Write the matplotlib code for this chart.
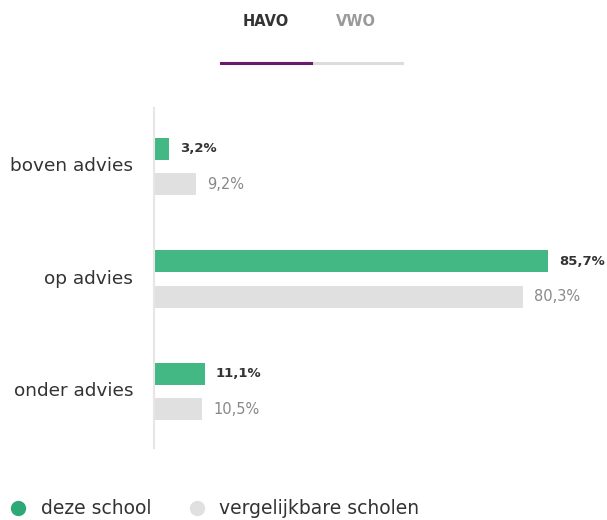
import matplotlib
matplotlib.use("Agg")
import matplotlib.pyplot as plt
from matplotlib.lines import Line2D
from matplotlib.transforms import ScaledTranslation
import numpy as np

categories = ["boven advies", "op advies", "onder advies"]
deze_school = [3.2, 85.7, 11.1]
vergelijkbaar = [9.2, 80.3, 10.5]
tabs = ["HAVO", "VWO"]
legend_labels = ["deze school", "vergelijkbare scholen"]

GREEN = "#43b885"
GREY = "#e0e0e0"
TXT = "#333333"

plt.rcParams['font.family'] = ['DejaVu Sans']

W, H = 607, 520
fig = plt.figure(figsize=(W / 100, H / 100), dpi=100)

def fx(px):
    return px / W

def fy(py):
    return 1 - py / H

ax_left, ax_right, ax_top, ax_bottom = 154, 607, 108, 448
ax = fig.add_axes([fx(ax_left), fy(ax_bottom), fx(ax_right - ax_left), (ax_bottom - ax_top) / H])

px_per_pct = 4.6
ax.set_xlim(0, (ax_right - ax_left) / px_per_pct)
unit = 112.5
top_off = 58.5 / unit
ax.set_ylim((ax_bottom - ax_top) / unit - top_off, -top_off)

y = np.arange(len(categories))
bh = 22 / unit
off = 17.75 / unit
ax.barh(y - off, deze_school, height=bh, color=GREEN)
ax.barh(y + off, vergelijkbaar, height=bh, color=GREY)

lab_pad = 11 / px_per_pct
for i in range(len(categories)):
    ax.text(deze_school[i] + lab_pad, y[i] - off, f"{deze_school[i]:.1f}%".replace(".", ","),
            va="center", ha="left", fontsize=9.5, fontweight="bold", color=TXT)
    ax.text(vergelijkbaar[i] + lab_pad, y[i] + off, f"{vergelijkbaar[i]:.1f}%".replace(".", ","),
            va="center", ha="left", fontsize=10.5, color="#888888")

ax.set_yticks(y)
ax.set_yticklabels(categories, fontsize=13.3, color=TXT)
ax.tick_params(axis="y", length=0, pad=15)
for lbl in ax.get_yticklabels():
    lbl.set_transform(lbl.get_transform() + ScaledTranslation(0, 2.5 / 100, fig.dpi_scale_trans))
ax.set_xticks([])
for s in ["top", "right", "bottom"]:
    ax.spines[s].set_visible(False)
ax.spines["left"].set_color("#e6e6e6")
ax.spines["left"].set_linewidth(1.5)

# Tabs
fig.text(fx(266), fy(21), tabs[0], ha="center", va="center", fontsize=10.5, fontweight="bold", color=TXT)
fig.text(fx(356), fy(21), tabs[1], ha="center", va="center", fontsize=10.5, fontweight="bold", color="#9a9a9a")
fig.add_artist(Line2D([fx(311), fx(402)], [fy(62.5), fy(62.5)], color="#dcdcdc", lw=2.2, transform=fig.transFigure))
fig.add_artist(Line2D([fx(221), fx(311)], [fy(62.5), fy(62.5)], color="#6a1b6b", lw=2.2, transform=fig.transFigure))

# Legend
fig.add_artist(Line2D([fx(18)], [fy(508)], marker="o", markersize=10, color="#2fa877", lw=0, transform=fig.transFigure))
fig.text(fx(41), fy(508), legend_labels[0], ha="left", va="center", fontsize=13.5, color=TXT)
fig.add_artist(Line2D([fx(197)], [fy(508)], marker="o", markersize=10, color=GREY, lw=0, transform=fig.transFigure))
fig.text(fx(219), fy(508), legend_labels[1], ha="left", va="center", fontsize=13.5, color=TXT)

fig.savefig("out.png", dpi=100)
